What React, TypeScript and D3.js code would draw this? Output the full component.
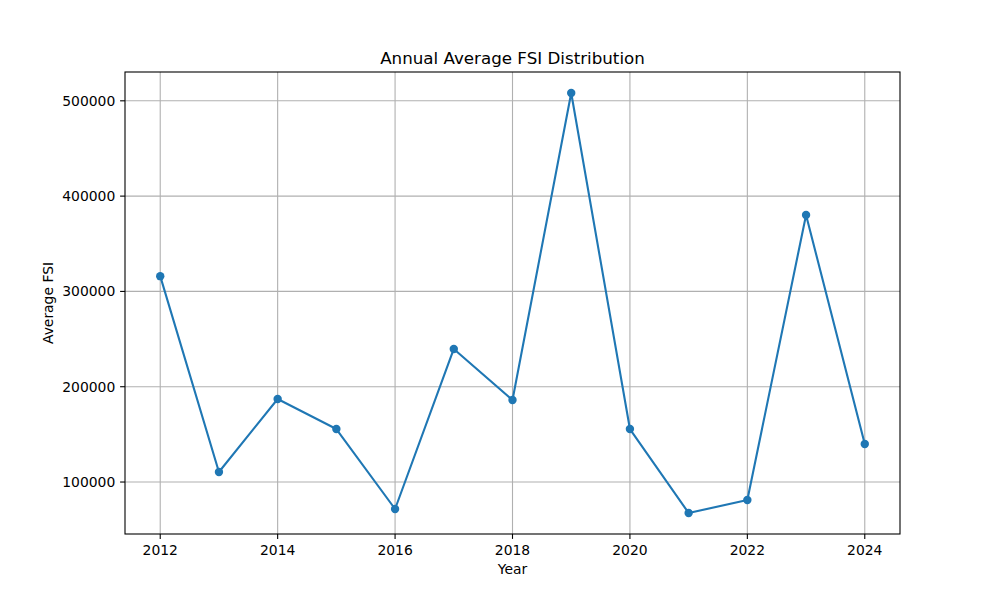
import React, { useEffect } from "react";
import * as d3 from "d3";

const years = [2012, 2013, 2014, 2015, 2016, 2017, 2018, 2019, 2020, 2021, 2022, 2023, 2024];
const fsiValues = [316000, 110500, 187100, 155600, 71700, 239600, 186000, 508200, 155600, 67500, 81100, 380200, 139900];
const xTicks = [2012, 2014, 2016, 2018, 2020, 2022, 2024];
const yTicks = [100000, 200000, 300000, 400000, 500000];

const W = 1000, H = 600;
const L = 125, R = 900, T = 72, B = 534;
const FONT = "DejaVu Sans, sans-serif";
const COLOR = "#1f77b4";
const FS = 13.9;

export default function App() {
  useEffect(() => {
    document.body.style.margin = "0";
  }, []);

  const xMin = d3.min(years)!, xMax = d3.max(years)!;
  const xm = (xMax - xMin) * 0.05;
  const x = d3.scaleLinear().domain([xMin - xm, xMax + xm]).range([L, R]);
  const yMin = d3.min(fsiValues)!, yMax = d3.max(fsiValues)!;
  const ym = (yMax - yMin) * 0.05;
  const y = d3.scaleLinear().domain([yMin - ym, yMax + ym]).range([B, T]);

  const line = d3.line<number>().x((_, i) => x(years[i])).y((d) => y(d));

  return (
    <div style={{ position: "absolute", left: 0, top: 0 }}>
      <svg width={W} height={H} style={{ display: "block", background: "#fff" }}>
        <rect x={0} y={0} width={W} height={H} fill="#fff" />
        {xTicks.map((t) => (
          <line key={"gx" + t} x1={x(t)} x2={x(t)} y1={T} y2={B} stroke="#b0b0b0" strokeWidth={1.1} />
        ))}
        {yTicks.map((t) => (
          <line key={"gy" + t} x1={L} x2={R} y1={y(t)} y2={y(t)} stroke="#b0b0b0" strokeWidth={1.1} />
        ))}
        <path d={line(fsiValues) || ""} fill="none" stroke={COLOR} strokeWidth={2.1} strokeLinejoin="round" />
        {fsiValues.map((v, i) => (
          <circle key={i} cx={x(years[i])} cy={y(v)} r={4.2} fill={COLOR} />
        ))}
        <rect x={L} y={T} width={R - L} height={B - T} fill="none" stroke="#000" strokeWidth={1.1} />
        {xTicks.map((t) => (
          <g key={"tx" + t}>
            <line x1={x(t)} x2={x(t)} y1={B} y2={B + 4.9} stroke="#000" strokeWidth={1.1} />
            <text x={x(t)} y={B + 20.5} textAnchor="middle" fontFamily={FONT} fontSize={FS} fill="#000">{t}</text>
          </g>
        ))}
        {yTicks.map((t) => (
          <g key={"ty" + t}>
            <line x1={L - 4.9} x2={L} y1={y(t)} y2={y(t)} stroke="#000" strokeWidth={1.1} />
            <text x={L - 9.7} y={y(t)} dy="0.36em" textAnchor="end" fontFamily={FONT} fontSize={FS} fill="#000">{t}</text>
          </g>
        ))}
        <text x={(L + R) / 2} y={T - 8.3} textAnchor="middle" fontFamily={FONT} fontSize={16.7} fill="#000">Annual Average FSI Distribution</text>
        <text x={(L + R) / 2} y={574} textAnchor="middle" fontFamily={FONT} fontSize={FS} fill="#000">Year</text>
        <text transform={`translate(53,${(T + B) / 2}) rotate(-90)`} textAnchor="middle" fontFamily={FONT} fontSize={FS} fill="#000">Average FSI</text>
      </svg>
    </div>
  );
}
